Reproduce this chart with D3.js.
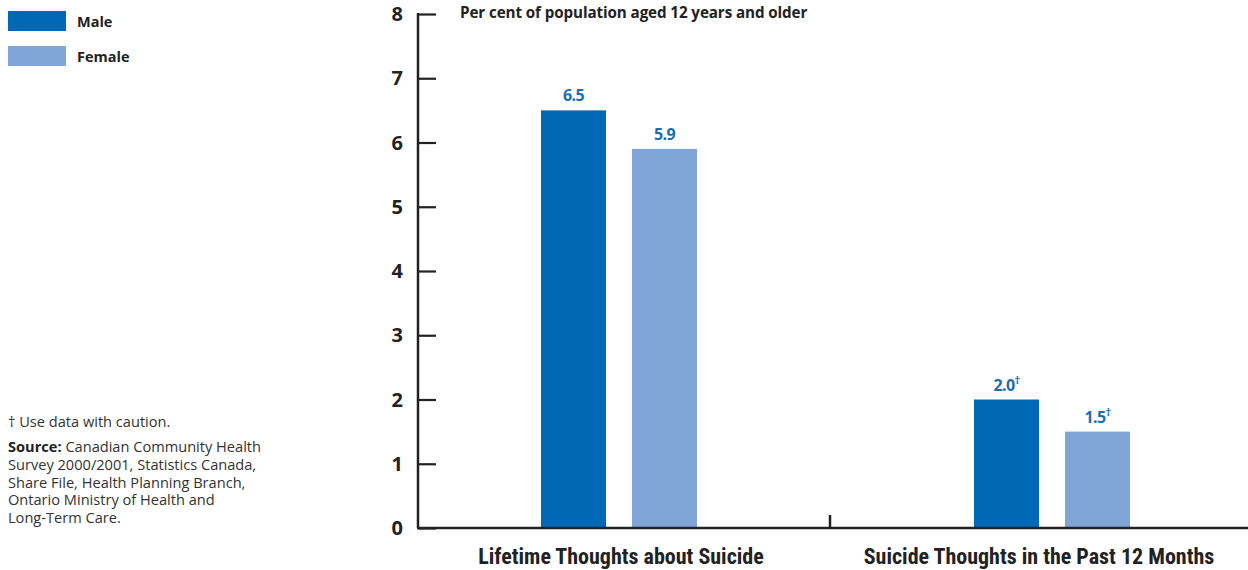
<!DOCTYPE html>
<html>
<head>
<meta charset="utf-8">
<script src="https://cdn.jsdelivr.net/npm/d3@7"></script>
<style>
  html, body { margin: 0; padding: 0; background: #fff; }
  svg { display: block; font-family: "Open Sans", "Noto Sans", sans-serif; }
</style>
</head>
<body>
<svg id="chart" width="1248" height="570"></svg>
<script>
// Thoughts about suicide, Ontario, by sex
const categories = ["Lifetime Thoughts about Suicide", "Suicide Thoughts in the Past 12 Months"];
const seriesNames = ["Male", "Female"];
const maleValues = [6.5, 2.0];
const femaleValues = [5.9, 1.5];
const cautionFlags = [false, true];   // estimates to use with caution
const yTicks = [0, 1, 2, 3, 4, 5, 6, 7, 8];
const colors = { Male: "#0068b5", Female: "#7fa5d6" };

const svg = d3.select("#chart");

const y = d3.scaleLinear().domain([0, 8]).range([528, 14]);
const x0 = d3.scaleBand().domain(categories).range([397, 1263]);
const x1 = d3.scaleBand().domain(seriesNames).range([144, 300]).paddingInner(0.2857);
// category labels are centred over the visible axis span
const xLabel = d3.scaleBand().domain(categories).range([412, 1248]);

const rows = categories.map((c, i) => ({
  category: c,
  caution: cautionFlags[i],
  values: [
    { series: "Male", value: maleValues[i] },
    { series: "Female", value: femaleValues[i] }
  ]
}));

// Bars
const groups = svg.selectAll("g.group").data(rows).join("g")
  .attr("class", "group")
  .attr("transform", d => `translate(${x0(d.category)},0)`);

groups.selectAll("rect").data(d => d.values).join("rect")
  .attr("x", d => x1(d.series))
  .attr("width", x1.bandwidth())
  .attr("y", d => y(d.value))
  .attr("height", d => y(0) - y(d.value))
  .attr("fill", d => colors[d.series]);

// Value labels
groups.each(function(row) {
  const g = d3.select(this);
  row.values.forEach(v => {
    const t = g.append("text")
      .attr("x", x1(v.series) + x1.bandwidth() / 2)
      .attr("y", y(v.value) - 9)
      .attr("text-anchor", "middle")
      .attr("fill", "#1a6db5")
      .attr("font-size", 16)
      .attr("font-weight", 700)
      .attr("letter-spacing", -0.6);
    t.append("tspan").text(d3.format(".1f")(v.value));
    if (row.caution) {
      t.append("tspan").attr("dy", -7).attr("font-size", 11).text("\u2020");
    }
  });
});

// Y axis
const yAxis = d3.axisRight(y).tickValues(yTicks).tickSize(18).tickFormat("");
const yg = svg.append("g").attr("transform", "translate(418,0)").call(yAxis);
yg.select(".domain").remove();
yg.selectAll(".tick line").attr("stroke", "#222").attr("stroke-width", 2.2);
svg.append("line").attr("x1", 418).attr("x2", 418).attr("y1", y(8) - 1).attr("y2", y(0))
  .attr("stroke", "#222").attr("stroke-width", 2.5);

svg.selectAll("text.ytick").data(yTicks).join("text")
  .attr("class", "ytick")
  .attr("x", 403)
  .attr("y", d => y(d) + 7)
  .attr("text-anchor", "end")
  .attr("font-size", 20)
  .attr("font-weight", 700)
  .attr("fill", "#222")
  .text(d => d);

// X axis baseline and group separator
svg.append("line").attr("x1", 417).attr("x2", 1248).attr("y1", y(0)).attr("y2", y(0))
  .attr("stroke", "#222").attr("stroke-width", 2.5);
svg.append("line")
  .attr("x1", x0(categories[1])).attr("x2", x0(categories[1]))
  .attr("y1", y(0) - 13).attr("y2", y(0))
  .attr("stroke", "#222").attr("stroke-width", 2.5);

// Category labels
svg.selectAll("text.cat").data(categories).join("text")
  .attr("class", "cat")
  .attr("x", d => xLabel(d) + xLabel.bandwidth() / 2)
  .attr("y", 564)
  .attr("text-anchor", "middle")
  .attr("font-family", "'Liberation Sans Narrow', 'Roboto Condensed', sans-serif")
  .attr("font-stretch", "condensed")
  .attr("font-size", 22)
  .attr("font-weight", 700)
  .attr("fill", "#222")
  .text(d => d);

// Unit note
svg.append("text")
  .attr("x", 460).attr("y", 18)
  .attr("font-size", 15.2).attr("font-weight", 700).attr("fill", "#222")
  .attr("letter-spacing", -0.1)
  .text("Per cent of population aged 12 years and older");

// Legend
const legend = svg.append("g");
seriesNames.forEach((s, i) => {
  legend.append("rect").attr("x", 8).attr("y", 11 + i * 35).attr("width", 58).attr("height", 20)
    .attr("fill", colors[s]);
  legend.append("text").attr("x", 77).attr("y", 27 + i * 35)
    .attr("font-size", 14.5).attr("font-weight", 700).attr("fill", "#222").text(s);
});

// Footnotes
const note = svg.append("g").attr("font-size", 14.6).attr("fill", "#333");
note.append("text").attr("x", 8).attr("y", 427).text("\u2020 Use data with caution.");
const sourceLines = [
  "Canadian Community Health",
  "Survey 2000/2001, Statistics Canada,",
  "Share File, Health Planning Branch,",
  "Ontario Ministry of Health and",
  "Long-Term Care."
];
const src = note.append("text").attr("x", 8).attr("y", 452);
sourceLines.forEach((line, i) => {
  const ts = src.append("tspan").attr("x", 8).attr("dy", i === 0 ? 0 : 17.8);
  if (i === 0) {
    ts.append("tspan").attr("font-weight", 700).attr("fill", "#222").text("Source: ");
    ts.append("tspan").text(line);
  } else {
    ts.text(line);
  }
});
</script>
</body>
</html>
